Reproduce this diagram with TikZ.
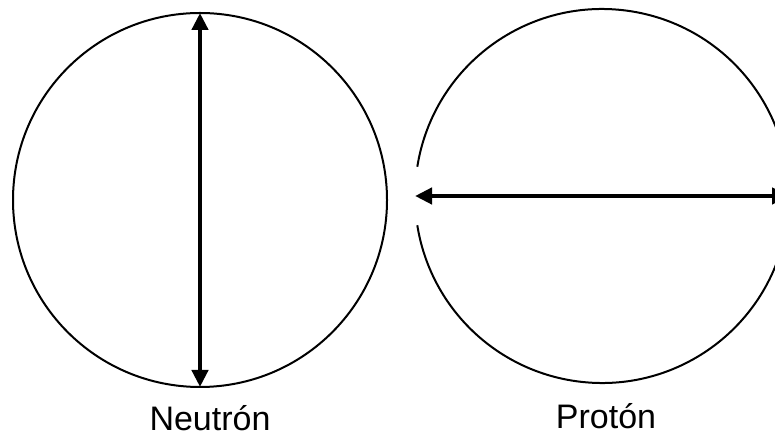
\documentclass[tikz,border=0pt]{standalone}
\usepackage{fontspec}
\setmainfont{Liberation Sans}
\usetikzlibrary{arrows.meta}

\begin{document}
\begin{tikzpicture}[
  x=1pt, y=1pt,
  ball/.style={circle, draw=black, line width=2pt, inner sep=0pt, outer sep=0pt, minimum size=374pt},
  rim/.style={line width=2pt, draw=black},
  dim/.style={{Triangle[length=17pt,width=16pt]}-{Triangle[length=17pt,width=16pt]}, line width=4.4pt, draw=black},
  lbl/.style={anchor=base, font=\fontsize{34}{40}\selectfont, inner sep=0pt}
]
\useasboundingbox (0,0) rectangle (775,438);
\clip (0,0) rectangle (775,438);

\node[ball] (neutron) at (200,238) {};
\node[ball, draw=none] (proton) at (602,242) {};
\draw[rim] (proton.171) arc[start angle=171, end angle=-171, radius=187pt];

\draw[dim] (neutron.north) -- (neutron.south);
\draw[dim] (proton.west) -- (proton.east);

\node[lbl] (nlabel) at (210,7) {Neutrón};
\node[lbl] (plabel) at (606,9) {Protón};
\end{tikzpicture}
\end{document}
